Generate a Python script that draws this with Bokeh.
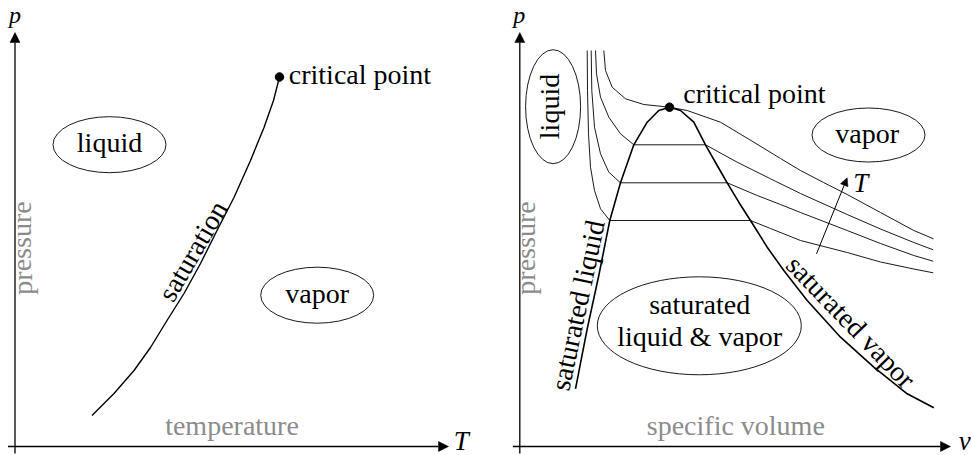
from bokeh.plotting import figure
from bokeh.layouts import row
from bokeh.models import Range1d, Arrow, NormalHead
from bokeh.core.properties import value
from bokeh.embed import file_html
from bokeh.resources import INLINE
import math

SERIF = "Liberation Serif"
GRAY = "#8c8c8c"
FS = "28px"
# the text glyph sits its "alphabetic" line about a third of an em low;
# labels below are given by their baseline, so lift them by this much
BASELINE_LIFT = 9.0

# ---------------- p-T diagram (axes origin at 0,0) ----------------
sat_T = [77, 99, 119, 135.5, 152, 169, 185.5, 202, 219, 235.5, 249, 258.5, 264.5]
sat_p = [31, 53, 76, 99, 126, 153, 183, 216, 249, 286, 319, 346, 369.5]
crit_T, crit_p = 264.5, 369.5

# region bubbles: x, y, width, height
pt_regions_x = [94.5, 302.2]
pt_regions_y = [301.8, 151.3]
pt_regions_w = [113, 113]
pt_regions_h = [56, 56]
pt_region_labels = ["liquid", "vapor"]
pt_label_x = [94.5, 302.2]
pt_label_y = [295.3, 144.3]

# ---------------- p-v diagram (axes origin at 0,0) ----------------
liq_v = [55.7, 67.4, 79, 90, 100.7, 114, 127.4, 139, 149.7]
liq_p = [57.7, 117.7, 171, 226, 263.7, 301.7, 324.3, 336, 339.3]
vap_v = [149.7, 160.7, 174, 185.7, 197.4, 207.4, 219, 230.7, 247.4, 264, 287.4,
         320.7, 354, 387.4, 414]
vap_p = [339.3, 336, 324.3, 301.7, 281, 263.7, 244.3, 226, 199.3, 176, 146,
         109.3, 79.3, 52.7, 38.7]
crit_v, crit_pv = 149.7, 339.3

iso_v = [
    [67.4, 67.7, 68.7, 70.7, 74.7, 80.7, 90, 230.7, 250.7, 280.7, 327.4, 360.7, 394, 413.4],
    [71.4, 72, 74.7, 80.7, 89, 100.7, 207.4, 237.4, 260.7, 280.7, 327.4, 360.7, 394, 413.4],
    [75.7, 76.7, 80.7, 89, 100.7, 114, 185.7, 217.4, 250.7, 280.7, 327.4, 360.7, 394, 413.4],
    [84, 85.7, 92.4, 105.7, 124, 149.7, 167.4, 200.7, 234, 260.7, 280.7, 303.7, 327.4,
     360.7, 394, 413.7],
]
iso_p = [
    [396, 356, 312.7, 279.3, 256, 237.7, 226, 226, 218, 206, 194, 184.5, 177.5, 173.7],
    [396, 356, 319.3, 292.7, 274.3, 263.7, 263.7, 251, 242, 234, 216, 203, 191, 185.3],
    [396, 372.7, 349.3, 329.3, 312.7, 301.7, 301.7, 284.3, 267.7, 253, 232, 217.5, 204, 196.7],
    [396, 376, 359.3, 347.7, 342, 339.3, 336, 324.3, 304.3, 288, 276, 264, 252, 234, 216, 207.7],
]

pv_regions_x = [33.3, 348.7, 179.5]
pv_regions_y = [339.8, 311.5, 120.7]
pv_regions_w = [55, 113, 204]
pv_regions_h = [114, 54, 98]


def make_panel(width, left):
    p = figure(width=width, height=455,
               x_range=Range1d(left, left + width), y_range=Range1d(-9, 446),
               output_backend="svg", toolbar_location=None, min_border=0,
               x_axis_location=None, y_axis_location=None,
               outline_line_color=None, background_fill_color="white",
               border_fill_color="white")
    p.grid.visible = False
    return p


def add_axes(p, x_end):
    for xs, ys, xe, ye in [(0, -7, 0, 414), (-7, 0, x_end, 0)]:
        p.add_layout(Arrow(end=NormalHead(size=10, fill_color="black",
                                          line_color="black", line_width=0.5),
                           x_start=xs, y_start=ys, x_end=xe, y_end=ye,
                           line_width=1.3, line_color="black"))


def label(p, x, y, txt, angle=0.0, align="center", color="black", style="normal",
          size=FS):
    a = math.radians(angle)
    x += -math.sin(a) * BASELINE_LIFT
    y += math.cos(a) * BASELINE_LIFT
    p.text(x=[x], y=[y], text=[txt], angle=[a],
           text_font=value(SERIF), text_font_size=value(size),
           text_font_style=style, text_color=color,
           text_align=align, text_baseline="alphabetic")


# ---- left panel ----
left = make_panel(485, -14.5)
add_axes(left, 433.5)
left.line(sat_T, sat_p, line_color="black", line_width=1.4, line_join="round")
left.scatter([crit_T], [crit_p], size=8.5, color="black")
left.ellipse(pt_regions_x, pt_regions_y, width=pt_regions_w, height=pt_regions_h,
             fill_color=None, line_color="black", line_width=0.9)
for tx, ty, t in zip(pt_label_x, pt_label_y, pt_region_labels):
    label(left, tx, ty, t)
label(left, 273.8, 363.3, "critical point", align="left")
label(left, 185.5, 191, "saturation", angle=60)
label(left, 16, 198.5, "pressure", angle=90, color=GRAY)
label(left, 217, 12.5, "temperature", color=GRAY)
label(left, 0, 423, "p", style="italic", size="24px")
label(left, 438.8, -3.5, "T", align="left", style="italic", size="27px")

# ---- right panel ----
right = make_panel(486, -34.3)
add_axes(right, 430.7)
right.multi_line(iso_v, iso_p, line_color="black", line_width=0.9, line_join="round")
right.line(liq_v, liq_p, line_color="black", line_width=1.6, line_join="round")
right.line(vap_v, vap_p, line_color="black", line_width=1.6, line_join="round")
right.scatter([crit_v], [crit_pv], size=8.5, color="black")
right.ellipse(pv_regions_x, pv_regions_y, width=pv_regions_w, height=pv_regions_h,
              fill_color=None, line_color="black", line_width=0.9)
label(right, 39, 340, "liquid", angle=90)
label(right, 347.4, 304.3, "vapor")
label(right, 179.9, 132.7, "saturated")
label(right, 179.9, 101, "liquid & vapor")
label(right, 163.4, 344.3, "critical point", align="left")
label(right, 66.7, 139.3, "saturated liquid", angle=78)
label(right, 324.7, 118.3, "saturated vapor", angle=-46)
label(right, 15, 198.5, "pressure", angle=90, color=GRAY)
label(right, 216, 12.5, "specific volume", color=GRAY)
label(right, -0.5, 423, "p", style="italic", size="24px")
label(right, 439, -3.5, "v", align="left", style="italic", size="27px")
right.add_layout(Arrow(end=NormalHead(size=8, fill_color="black", line_color="black",
                                      line_width=0.5),
                       x_start=296.7, y_start=192.7, x_end=327.4, y_end=268.7,
                       line_width=1.0, line_color="black"))
label(right, 333.4, 254.3, "T", align="left", style="italic", size="27px")

layout = row(left, right)
open("out.html", "w").write(file_html(layout, INLINE))
